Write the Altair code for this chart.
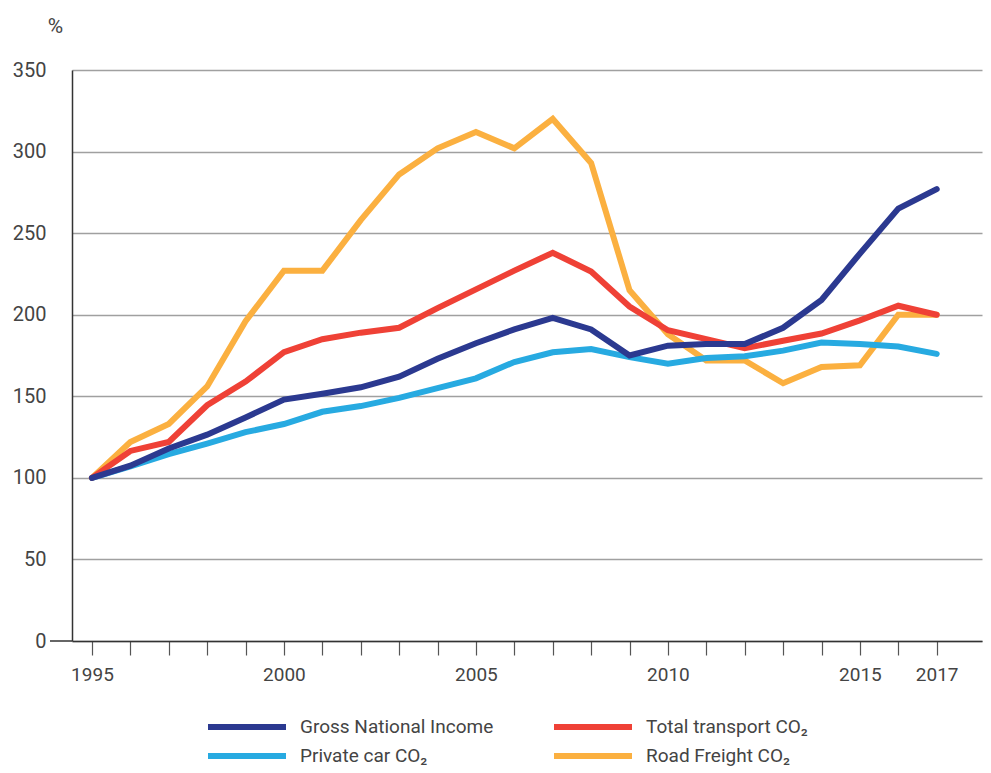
import altair as alt
import pandas as pd

years = list(range(1995, 2018))

gni = [100, 107.5, 118, 126.5, 137, 148, 151.5, 155.5, 162, 173, 182.5, 191, 198, 191, 175, 181, 182, 182, 192, 209, 237.5, 265, 277]
total_transport = [100, 116.5, 122, 144.5, 159, 177, 185, 189, 192, 204, 215.5, 227, 238, 226.5, 205, 190.5, 185, 179.5, 184, 188.5, 196.5, 205.5, 200]
private_car = [100, 107, 114.5, 121, 128, 133, 140.5, 144, 149, 155, 161, 171, 177, 179, 174, 170, 173.5, 174.5, 178, 183, 182, 180.5, 176]
road_freight = [100, 122, 133, 156, 196, 227, 227, 258, 286, 302, 312, 302, 320, 293, 215, 188, 172, 172, 158, 168, 169, 200, 200]

series_names = ["Gross National Income", "Private car CO₂", "Total transport CO₂", "Road Freight CO₂"]
series_colors = ["#2b3990", "#27aae1", "#ef4136", "#fbb040"]
label_years = [1995, 2000, 2005, 2010, 2015, 2017]

# draw order: freight, private car, total, GNI on top
draw_order = [("Road Freight CO₂", road_freight), ("Private car CO₂", private_car),
              ("Total transport CO₂", total_transport), ("Gross National Income", gni)]
rows = []
for i, (name, vals) in enumerate(draw_order):
    for y, v in zip(years, vals):
        rows.append({"year": y, "value": v, "series": name, "z": i})
df = pd.DataFrame(rows)

FONT = "Roboto"
TXT = "#444444"

x_scale = alt.Scale(domain=[1994.48, 2018.18], nice=False, zero=False)
y_scale = alt.Scale(domain=[0, 350], nice=False)

label_test = ("indexof([" + ",".join(str(v) for v in label_years) +
              "], datum.value) >= 0 ? '\u2002' + datum.label : ''")

lines = alt.Chart(df).mark_line(strokeWidth=6, strokeCap="round", strokeJoin="miter").encode(
    x=alt.X("year:Q", scale=x_scale,
            axis=alt.Axis(values=years, format="d", title=None, grid=False,
                          tickSize=14, tickColor="#555555", tickWidth=1.2,
                          domainColor="#333333", domainWidth=1.5,
                          labelExpr=label_test,
                          labelFont=FONT, labelFontSize=19, labelColor=TXT,
                          labelPadding=10, labelOverlap=False, labelFlush=False)),
    y=alt.Y("value:Q", scale=y_scale,
            axis=alt.Axis(values=[0, 50, 100, 150, 200, 250, 300, 350], title="%",
                          titleAngle=0, titleX=-17, titleY=-44, titleAlign="center",
                          titleBaseline="middle", titleFont=FONT, titleFontSize=21,
                          titleFontWeight="normal", titleColor=TXT,
                          grid=True, gridColor="#a0a0a0", gridWidth=1.5,
                          tickSize=0, domainColor="#333333", domainWidth=1.5,
                          labelFont=FONT, labelFontSize=20, labelColor=TXT, labelPadding=26)),
    color=alt.Color("series:N",
                    scale=alt.Scale(domain=series_names, range=series_colors),
                    legend=alt.Legend(title=None, orient="none", legendX=191, legendY=644,
                                      columns=2, columnPadding=48, rowPadding=4,
                                      symbolType="M-6.8,0H1", symbolStrokeWidth=6,
                                      symbolSize=400, labelOffset=11,
                                      labelFont=FONT, labelFontSize=19, labelColor=TXT,
                                      labelLimit=400)),
    detail="z:O",
    order="z:Q",
)

axis_ext = alt.Chart(pd.DataFrame({"a": [0]})).mark_rule(color="#333333", strokeWidth=1.5).encode(
    x=alt.value(-22), x2=alt.value(0), y=alt.value(571)
)

chart = alt.layer(axis_ext, lines).properties(
    width=910, height=571,
    autosize=alt.AutoSizeParams(type="none"),
    padding={"left": 64, "top": 62, "right": 1, "bottom": 130},
).configure_view(stroke=None)

chart.save("out.html", embed_options={"renderer": "svg", "actions": False})
